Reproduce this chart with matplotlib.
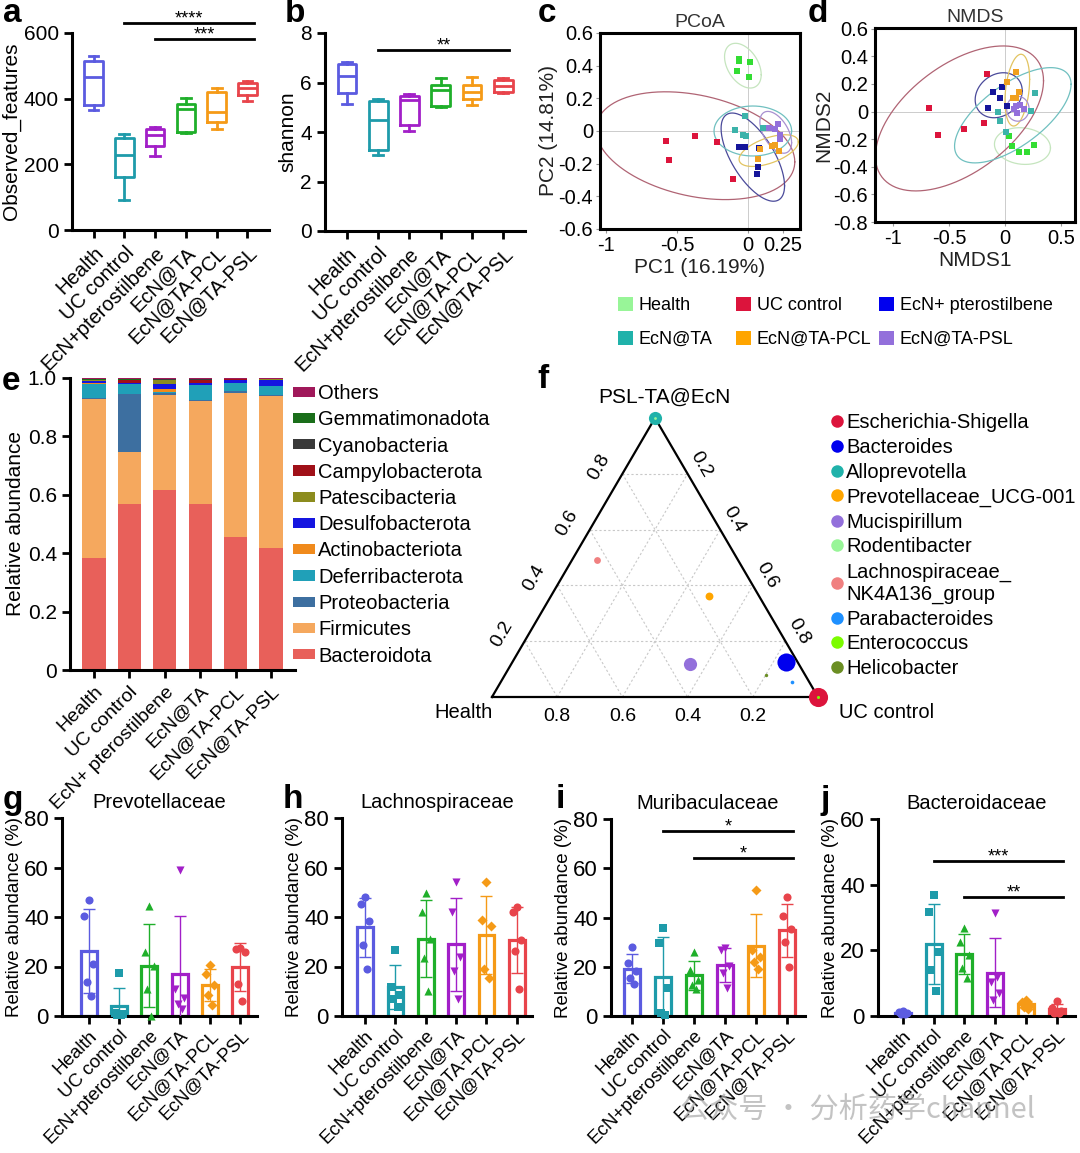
import numpy as np
import matplotlib
matplotlib.use('Agg')
import matplotlib.pyplot as plt
from matplotlib.patches import Patch
from matplotlib.lines import Line2D

plt.rcParams['font.family'] = ['Liberation Sans', 'DejaVu Sans']

W, H = 1080, 1153

# ---- data ----
groups = ['Health', 'UC control', 'EcN+pterostilbene', 'EcN@TA', 'EcN@TA-PCL', 'EcN@TA-PSL']
groups_e = ['Health', 'UC control', 'EcN+ pterostilbene', 'EcN@TA', 'EcN@TA-PCL', 'EcN@TA-PSL']
groups_leg = ['Health', 'UC control', 'EcN+ pterostilbene', 'EcN@TA', 'EcN@TA-PCL', 'EcN@TA-PSL']

# a: observed features box stats
obs_whislo = [364, 92, 226, 296, 309, 392]
obs_q1 = [381, 160, 257, 299, 328, 412]
obs_med = [466, 229, 289, 368, 359, 432]
obs_q3 = [514, 280, 308, 385, 420, 447]
obs_whishi = [529, 292, 313, 402, 433, 455]
sig_a = [(1, 5, 630, '****'), (2, 5, 582, '***')]

# b: shannon box stats
sha_whislo = [5.13, 3.08, 4.04, 4.99, 5.10, 5.56]
sha_q1 = [5.56, 3.28, 4.30, 5.04, 5.32, 5.63]
sha_med = [6.26, 4.50, 5.29, 5.69, 5.63, 5.87]
sha_q3 = [6.75, 5.26, 5.46, 5.88, 5.91, 6.10]
sha_whishi = [6.81, 5.33, 5.53, 6.18, 6.24, 6.17]
sig_b = [(1, 5, 7.32, '**')]

# c: PCoA
pcoa_x = [[-0.058, -0.058, 0.018, -0.075, 0.013],
          [-0.575, -0.56, -0.375, -0.218, -0.10],
          [-0.063, -0.02, 0.08, 0.075, 0.068],
          [-0.015, -0.088, -0.033, -0.013, 0.11],
          [0.075, 0.175, 0.193, 0.22, 0.088],
          [0.155, 0.193, 0.213, 0.23, 0.23]]
pcoa_y = [[0.44, 0.43, 0.42, 0.37, 0.33],
          [-0.063, -0.178, -0.031, -0.069, -0.292],
          [-0.10, -0.10, -0.106, -0.22, -0.265],
          [0.09, 0.008, -0.022, -0.033, 0.02],
          [-0.17, -0.094, -0.088, -0.125, -0.108],
          [0.02, 0.012, 0.043, -0.022, -0.049]]
# ellipse: centre x, centre y, half width, half height, correlation
pcoa_ell = [(-0.033, 0.40, 0.13, 0.137, -0.4),
            (-0.37, -0.09, 0.705, 0.33, -0.3),
            (0.0375, -0.16, 0.225, 0.27, -0.65),
            (0.0375, 0.0, 0.275, 0.153, 0.0),
            (0.15, -0.12, 0.21, 0.097, 0.55),
            (0.2, -0.008, 0.1125, 0.128, -0.5)]

# d: NMDS
nmds_x = [[0.04, 0.06, 0.125, 0.2, 0.256],
          [-0.68, -0.6, -0.366, -0.19, -0.156],
          [-0.03, -0.11, -0.04, -0.15, 0.016],
          [0.266, -0.06, -0.04, 0.01, 0.234],
          [0.094, 0.016, 0.125, 0.069, 0.094],
          [0.094, 0.134, 0.17, 0.11, 0.08]]
nmds_y = [[-0.18, -0.25, -0.29, -0.29, -0.245],
          [0.027, -0.167, -0.13, -0.082, 0.27],
          [0.18, 0.14, 0.10, 0.024, 0.043],
          [0.135, 0.0, -0.072, -0.15, 0.007],
          [0.287, 0.217, 0.14, 0.099, 0.099],
          [0.043, 0.048, 0.02, -0.01, 0.015]]
nmds_ell = [(0.156, -0.25, 0.25, 0.133, -0.1),
            (-0.406, -0.05, 0.75, 0.525, 0.52),
            (-0.056, 0.118, 0.21, 0.163, 0.2),
            (0.07, -0.027, 0.52, 0.345, 0.65),
            (0.11, 0.155, 0.11, 0.26, 0.3),
            (0.115, 0.02, 0.1, 0.09, 0.0)]

# e: phylum relative abundance (bottom -> top)
phyla = ['Bacteroidota', 'Firmicutes', 'Proteobacteria', 'Deferribacterota', 'Actinobacteriota',
         'Desulfobacterota', 'Patescibacteria', 'Campylobacterota', 'Cyanobacteria',
         'Gemmatimonadota', 'Others']
bacteroidota = [0.382, 0.568, 0.617, 0.567, 0.457, 0.418]
firmicutes = [0.545, 0.178, 0.326, 0.355, 0.493, 0.520]
proteobacteria = [0.004, 0.199, 0.004, 0.004, 0.006, 0.003]
deferribacterota = [0.050, 0.033, 0.006, 0.050, 0.026, 0.030]
actinobacteriota = [0.002, 0.002, 0.010, 0.001, 0.001, 0.001]
desulfobacterota = [0.008, 0.002, 0.018, 0.006, 0.010, 0.022]
patescibacteria = [0.001, 0.001, 0.012, 0.001, 0.001, 0.001]
campylobacterota = [0.001, 0.010, 0.001, 0.010, 0.001, 0.001]
cyanobacteria = [0.001, 0.001, 0.002, 0.001, 0.001, 0.001]
gemmatimonadota = [0.001, 0.001, 0.001, 0.001, 0.001, 0.001]
others = [0.005, 0.005, 0.003, 0.003, 0.003, 0.002]

# f: ternary plot
genera = ['Escherichia-Shigella', 'Bacteroides', 'Alloprevotella', 'Prevotellaceae_UCG-001',
          'Mucispirillum', 'Rodentibacter', 'Lachnospiraceae_\nNK4A136_group', 'Parabacteroides',
          'Enterococcus', 'Helicobacter']
tern_health = [0.0, 0.034, 0.0, 0.152, 0.332, 0.0, 0.431, 0.053, 0.0, 0.12]
tern_uc = [1.0, 0.84, 0.0, 0.485, 0.548, 0.0, 0.078, 0.893, 1.0, 0.80]
tern_psl = [0.0, 0.126, 1.0, 0.363, 0.12, 1.0, 0.491, 0.054, 0.0, 0.08]
tern_size = [190, 170, 90, 32, 90, 4, 24, 7, 5, 6]

# g-j: family relative abundance (%) per mouse
prevotellaceae = [[47, 40.6, 21, 13.8, 8.2], [17.3, 1.2, 0.8, 0.5, 0.3], [44.5, 26, 20.2, 11, 0.2],
                  [58.8, 10.8, 7.2, 5, 2.7], [20.6, 17, 12.5, 8.5, 4.5], [27.5, 27, 25.8, 13, 6]]
lachnospiraceae = [[47.9, 45.3, 38.2, 28.5, 19], [26.7, 11.9, 8.5, 7, 3.8], [49.7, 42.2, 31, 23.3, 10.1],
                   [54, 42, 24, 18, 7], [54, 38.9, 36.2, 19, 15.5], [43.9, 42.2, 30.8, 26.3, 10.9]]
muribaculaceae = [[28.2, 21.4, 18.3, 15.3, 13], [35.7, 29.6, 11.3, 1.1, 0.5], [25.9, 18.5, 14.5, 12.5, 11],
                  [27.5, 26.8, 20.3, 17.5, 11.4], [51, 27, 24, 22, 19], [48.5, 40.5, 35.5, 30, 20]]
bacteroidaceae = [[1.5, 1.2, 1.0, 0.6, 0.5], [36.9, 31.8, 19.4, 14, 7.7], [26.8, 22.5, 18.5, 14.5, 11.7],
                  [31.5, 10.5, 7, 5, 12], [5, 4.2, 3.5, 2.8, 2.2], [4.5, 2.5, 1.5, 1.0, 0.8]]
sig_i = [(1, 5, 75, '*'), (2, 5, 64.2, '*')]
sig_j = [(1, 5, 47.2, '***'), (2, 5, 36.2, '**')]

# ---- styles ----
box_colors = ['#5B5BE0', '#1E9BAA', '#A21FC8', '#1FAF2A', '#F59A17', '#E8444B']
bar_colors = ['#5B5BE0', '#1E9BAA', '#1FAF2A', '#A21FC8', '#F59A17', '#E8444B']
bar_markers = ['o', 's', '^', 'v', 'D', 'o']
pt_colors = ['#33DD33', '#DC143C', '#15159A', '#3CB3AA', '#F0A020', '#9370DB']
ell_colors = ['#C5E5BE', '#B06474', '#4A4A9A', '#70C0C0', '#E2C461', '#A890D0']
leg_colors = ['#98F598', '#DC143C', '#0000EE', '#20B2AA', '#FFA500', '#9370DB']
phy_colors = ['#E8605A', '#F5A85E', '#3D6FA0', '#20A0B8', '#F08A1C', '#1515E0',
              '#8C8C1E', '#A01018', '#3A3A3A', '#1A6E1A', '#A0185A']
gen_colors = ['#DC143C', '#0000EE', '#20B2AA', '#FFA500', '#9370DB', '#98F598',
              '#F08080', '#1E90FF', '#7CFC00', '#6B8E23']


def rect(l, t, r, b):
    return [l / W, 1 - b / H, (r - l) / W, (b - t) / H]


def style_axes(ax, fs=13):
    for s in ['top', 'right']:
        ax.spines[s].set_visible(False)
    for s in ['left', 'bottom']:
        ax.spines[s].set_linewidth(2.2)
    ax.tick_params(width=2, length=6)
    ax.tick_params(axis='y', labelsize=fs)


def add_sig(ax, sigs, fs=13):
    for i0, i1, y, txt in sigs:
        ax.plot([i0, i1 + 0.2], [y, y], color='black', lw=2, clip_on=False)
        ax.annotate(txt, ((i0 + i1 + 0.2) / 2, y), xytext=(0, -3), textcoords='offset points',
                    ha='center', va='bottom', fontsize=fs, annotation_clip=False)


def box_panel(ax, lo, q1, med, q3, hi, ylabel, ylim, yticks):
    stats = [dict(whislo=lo[i], q1=q1[i], med=med[i], q3=q3[i], whishi=hi[i]) for i in range(6)]
    bp = ax.bxp(stats, positions=range(6), widths=0.6, showfliers=False, capwidths=0.32)
    for i, c in enumerate(box_colors):
        bp['boxes'][i].set(color=c, lw=2)
        bp['medians'][i].set(color=c, lw=2)
        for k in (2 * i, 2 * i + 1):
            bp['whiskers'][k].set(color=c, lw=2)
            bp['caps'][k].set(color=c, lw=2)
    ax.set_xlim(-0.7, 5.7)
    ax.set_ylim(*ylim)
    ax.set_yticks(yticks)
    ax.set_xticks(range(6))
    ax.set_xticklabels(groups, rotation=45, ha='right', rotation_mode='anchor', fontsize=14.5)
    ax.set_ylabel(ylabel, fontsize=15, labelpad=2)
    style_axes(ax, 15)


def ellipse(ax, cx, cy, hx, hy, rho, color):
    t = np.linspace(0, 2 * np.pi, 200)
    ex = cx + hx * np.cos(t)
    ey = cy + hy * (rho * np.cos(t) + np.sqrt(1 - rho ** 2) * np.sin(t))
    ax.plot(ex, ey, color=color, lw=0.9)


def ord_panel(ax, xs, ys, ells, title, xlabel, ylabel, xlim, ylim, xticks, xtl, yticks):
    ax.axhline(0, color='#cccccc', lw=0.7, zorder=0)
    ax.axvline(0, color='#cccccc', lw=0.7, zorder=0)
    for k in range(6):
        ellipse(ax, *ells[k], ell_colors[k])
        ax.scatter(xs[k], ys[k], marker='s', s=18, color=pt_colors[k], zorder=3, linewidths=0)
    ax.set_xlim(*xlim)
    ax.set_ylim(*ylim)
    ax.set_xticks(xticks)
    ax.set_xticklabels(xtl)
    ax.set_yticks(yticks)
    ax.set_yticklabels(['0' if abs(v) < 1e-9 else ('%g' % v) for v in yticks])
    for s in ax.spines.values():
        s.set_linewidth(2.2)
    ax.tick_params(labelsize=14.5, length=3, width=0.8, color='#999999', pad=2)
    ax.set_title(title, fontsize=14, pad=4, color='#333333')
    ax.set_xlabel(xlabel, fontsize=15, labelpad=2, color='#222222')
    ax.set_ylabel(ylabel, fontsize=15, labelpad=0, color='#222222')


def bar_panel(ax, pts, title, ylim, yticks, sigs=None):
    jit = [0.0, -0.14, 0.14, -0.07, 0.07]
    for i, vals in enumerate(pts):
        v = np.array(vals)
        m, sd = v.mean(), v.std(ddof=1)
        c = bar_colors[i]
        ax.bar(i, m, width=0.52, facecolor='white', edgecolor=c, lw=2.3, zorder=2)
        ax.errorbar(i, m, yerr=sd, color=c, lw=1, capsize=4, capthick=1, zorder=3)
        ms = 26 if bar_markers[i] == 'D' else 34
        ax.scatter(i + np.array(jit), v, marker=bar_markers[i], s=ms, color=c, zorder=4,
                   linewidths=0, clip_on=False)
    ax.set_ylim(*ylim)
    ax.set_yticks(yticks)
    ax.set_xticks(range(6))
    ax.set_xticklabels(groups, rotation=45, ha='right', rotation_mode='anchor', fontsize=13.5)
    ax.set_ylabel('Relative abundance (%)', fontsize=13.5, labelpad=1)
    ax.set_title(title, fontsize=14.5, pad=7)
    style_axes(ax, 16)
    ax.tick_params(axis='x', pad=2)
    if sigs:
        add_sig(ax, sigs)


fig = plt.figure(figsize=(W / 100, H / 100), dpi=100)

# a
ax_a = fig.add_axes(rect(72, 33, 269, 230))
box_panel(ax_a, obs_whislo, obs_q1, obs_med, obs_q3, obs_whishi, 'Observed_features',
          (0, 600), [0, 200, 400, 600])
add_sig(ax_a, sig_a)

# b
ax_b = fig.add_axes(rect(325, 33, 525, 231))
box_panel(ax_b, sha_whislo, sha_q1, sha_med, sha_q3, sha_whishi, 'shannon',
          (0, 8), [0, 2, 4, 6, 8])
add_sig(ax_b, sig_b)

# c
ax_c = fig.add_axes(rect(600, 33, 800, 229))
ord_panel(ax_c, pcoa_x, pcoa_y, pcoa_ell, 'PCoA', 'PC1 (16.19%)', 'PC2 (14.81%)',
          (-1.046, 0.372), (-0.6, 0.6), [-1, -0.5, 0, 0.25], ['-1', '-0.5', '0', '0.25'],
          [-0.6, -0.4, -0.2, 0, 0.2, 0.4, 0.6])

# d
ax_d = fig.add_axes(rect(875, 28, 1075, 222))
ord_panel(ax_d, nmds_x, nmds_y, nmds_ell, 'NMDS', 'NMDS1', 'NMDS2',
          (-1.16, 0.625), (-0.8, 0.605), [-1, -0.5, 0, 0.5], ['-1', '-0.5', '0', '0.5'],
          [-0.8, -0.6, -0.4, -0.2, 0, 0.2, 0.4, 0.6])

# legend for c/d, one legend per column
for col, xpx in enumerate([618, 736, 879]):
    idx = [col, col + 3]
    hs = [Patch(facecolor=leg_colors[k], edgecolor='none') for k in idx]
    fig.legend(hs, [groups_leg[k] for k in idx], loc='upper left',
               bbox_to_anchor=(xpx / W, 1 - 297 / H), frameon=False, fontsize=13,
               handlelength=0.85, handleheight=0.85, handletextpad=0.3, labelspacing=0.9,
               borderpad=0, borderaxespad=0)

# e
ax_e = fig.add_axes(rect(70, 378, 295, 670))
layers = [bacteroidota, firmicutes, proteobacteria, deferribacterota, actinobacteriota,
          desulfobacterota, patescibacteria, campylobacterota, cyanobacteria, gemmatimonadota, others]
bottom = np.zeros(6)
for name, vals, c in zip(phyla, layers, phy_colors):
    ax_e.bar(range(6), vals, bottom=bottom, width=0.66, color=c, label=name)
    bottom += np.array(vals)
ax_e.set_xlim(-0.68, 5.68)
ax_e.set_ylim(0, 1.0)
ax_e.set_yticks([0, 0.2, 0.4, 0.6, 0.8, 1.0])
ax_e.set_yticklabels(['0', '0.2', '0.4', '0.6', '0.8', '1.0'])
ax_e.set_xticks(range(6))
ax_e.set_xticklabels(groups_e, rotation=45, ha='right', rotation_mode='anchor', fontsize=14)
ax_e.set_ylabel('Relative abundance', fontsize=15, labelpad=2)
style_axes(ax_e, 15)
h_e, l_e = ax_e.get_legend_handles_labels()
fig.legend(h_e[::-1], l_e[::-1], loc='upper left', bbox_to_anchor=(293 / W, 1 - 384 / H),
           frameon=False, fontsize=14.5, handlelength=1.1, handleheight=0.4, handletextpad=0.15,
           labelspacing=0.36, borderpad=0, borderaxespad=0)

# f ternary
ax_f = fig.add_axes(rect(492, 418, 818, 697))
ax_f.set_xlim(0, 1)
ax_f.set_ylim(0, np.sqrt(3) / 2)
ax_f.axis('off')
r3 = np.sqrt(3) / 2


def cart(uc, psl):
    return np.asarray(uc) + np.asarray(psl) / 2, np.asarray(psl) * r3


levels = [0.2, 0.4, 0.6, 0.8]
for v in levels:
    for p0, p1 in [((0, v), (1 - v, v)), ((v, 0), (v, 1 - v)), ((0, 1 - v), (1 - v, 0))]:
        x0, y0 = cart(*p0)
        x1, y1 = cart(*p1)
        ax_f.plot([x0, x1], [y0, y1], color='#c8c8c8', lw=0.8, ls=(0, (2, 2)), zorder=1)
tx, ty = cart([0, 1, 0, 0], [0, 0, 1, 0])
ax_f.plot(tx, ty, color='black', lw=1.6, zorder=2, clip_on=False)
for v in levels:
    x, y = cart(0, v)
    ax_f.text(x - 0.07, y + 0.022, '%.1f' % v, rotation=60, ha='center', va='center', fontsize=14)
    x, y = cart(v, 1 - v)
    ax_f.text(x + 0.042, y + 0.03, '%.1f' % v, rotation=-60, ha='center', va='center', fontsize=14)
    x, y = cart(1 - v, 0)
    ax_f.text(x, y - 0.06, '%.1f' % v, ha='center', va='center', fontsize=14)
ax_f.text(-0.086, -0.048, 'Health', ha='center', va='center', fontsize=14.5)
ax_f.text(1.064, -0.048, 'UC control', ha='left', va='center', fontsize=14.5)
ax_f.text(0.528, 0.929, 'PSL-TA@EcN', ha='center', va='center', fontsize=15)
gx, gy = cart(tern_uc, tern_psl)
order = np.argsort(tern_size)[::-1]
for k in order:
    ax_f.scatter(gx[k], gy[k], s=tern_size[k], color=gen_colors[k], zorder=5, clip_on=False,
                 linewidths=0)
hs_f = [Line2D([], [], marker='o', ls='none', markersize=9, markerfacecolor=c, markeredgecolor='none')
        for c in gen_colors]
fig.legend(hs_f, genera, loc='upper left', bbox_to_anchor=(831 / W, 1 - 413 / H), frameon=False,
           fontsize=14.5, handlelength=0.6, handletextpad=0.15, labelspacing=0.29,
           borderpad=0, borderaxespad=0)

# g-j
ax_g = fig.add_axes(rect(62, 818, 257, 1016))
bar_panel(ax_g, prevotellaceae, 'Prevotellaceae', (0, 80), [0, 20, 40, 60, 80])
ax_g.set_xlim(-0.88, 5.55)
ax_h = fig.add_axes(rect(342, 818, 532, 1016))
bar_panel(ax_h, lachnospiraceae, 'Lachnospiraceae', (0, 80), [0, 20, 40, 60, 80])
ax_h.set_xlim(-0.76, 5.5)
ax_i = fig.add_axes(rect(611, 819, 805, 1016))
bar_panel(ax_i, muribaculaceae, 'Muribaculaceae', (0, 80), [0, 20, 40, 60, 80], sig_i)
ax_i.set_xlim(-0.68, 5.58)
ax_j = fig.add_axes(rect(878, 819, 1075, 1016))
bar_panel(ax_j, bacteroidaceae, 'Bacteroidaceae', (0, 60), [0, 20, 40, 60], sig_j)
ax_j.set_xlim(-0.81, 5.6)

# panel letters
for letter, xpx, ypx in [('a', 3, 14), ('b', 285, 14), ('c', 538, 14), ('d', 808, 14),
                         ('e', 2, 382), ('f', 537, 380), ('g', 3, 800), ('h', 283, 800),
                         ('i', 556, 800), ('j', 821, 800)]:
    fig.text(xpx / W, 1 - ypx / H, letter, fontsize=24, fontweight='bold', va='center', ha='left')

# watermark
fig.text(680 / W, 1 - 1110 / H, '公众号 · 分析药学channel', fontsize=21, color='#aaaaaa', alpha=0.7,
         va='center', ha='left', family=['Noto Sans CJK SC', 'DejaVu Sans'])

fig.savefig('out.png', dpi=100)
